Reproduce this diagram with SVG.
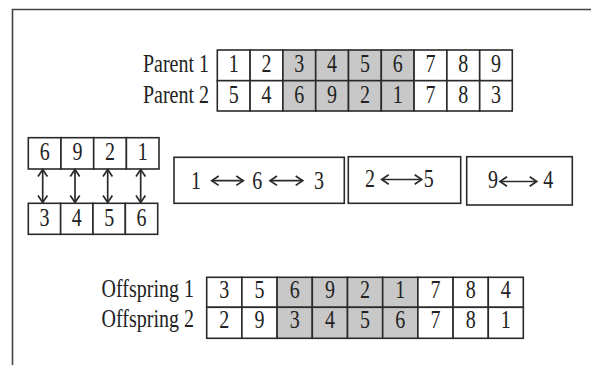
<svg xmlns="http://www.w3.org/2000/svg" width="591" height="365" viewBox="0 0 591 365">
<style>
text{font-family:"Liberation Serif","Times New Roman",serif;font-size:20px;fill:#222}
.d{text-anchor:middle}
.l{text-anchor:end}
.c{fill:#fff;stroke:#2a2a2a;stroke-width:1.6}
.g{fill:#c8c8c8;stroke:#2a2a2a;stroke-width:1.6}
.b{fill:#fff;stroke:#2a2a2a;stroke-width:1.6}
.a{fill:none;stroke:#2a2a2a;stroke-width:1.7}
.frame{fill:none;stroke:#444;stroke-width:1.6}
</style>
<defs>
<marker id="chev" markerUnits="userSpaceOnUse" markerWidth="12" markerHeight="12" refX="7.5" refY="5" orient="auto-start-reverse" overflow="visible">
<path d="M0.5,0.3 L7.5,5 L0.5,9.7" fill="none" stroke="#2a2a2a" stroke-width="1.7"/>
</marker>
</defs>
<rect width="591" height="365" fill="#fff"/>
<path class="frame" d="M12.5,365 V9.5 H591"/>

<g id="parents">
<text class="l" transform="translate(209,72.3) scale(1,1.3)">Parent 1</text>
<text class="l" transform="translate(209,102.7) scale(1,1.3)">Parent 2</text>
<rect class="c" x="217.3" y="50" width="32.8" height="30.7"/><rect class="c" x="250.1" y="50" width="32.8" height="30.7"/><rect class="g" x="282.9" y="50" width="32.8" height="30.7"/><rect class="g" x="315.7" y="50" width="32.8" height="30.7"/><rect class="g" x="348.5" y="50" width="32.8" height="30.7"/><rect class="g" x="381.3" y="50" width="32.8" height="30.7"/><rect class="c" x="414.1" y="50" width="32.8" height="30.7"/><rect class="c" x="446.9" y="50" width="32.8" height="30.7"/><rect class="c" x="479.7" y="50" width="32.6" height="30.7"/>
<rect class="c" x="217.3" y="80.7" width="32.8" height="30.3"/><rect class="c" x="250.1" y="80.7" width="32.8" height="30.3"/><rect class="g" x="282.9" y="80.7" width="32.8" height="30.3"/><rect class="g" x="315.7" y="80.7" width="32.8" height="30.3"/><rect class="g" x="348.5" y="80.7" width="32.8" height="30.3"/><rect class="g" x="381.3" y="80.7" width="32.8" height="30.3"/><rect class="c" x="414.1" y="80.7" width="32.8" height="30.3"/><rect class="c" x="446.9" y="80.7" width="32.8" height="30.3"/><rect class="c" x="479.7" y="80.7" width="32.6" height="30.3"/>
<text class="d" transform="translate(233.7,72.3) scale(1,1.3)">1</text><text class="d" transform="translate(266.5,72.3) scale(1,1.3)">2</text><text class="d" transform="translate(299.3,72.3) scale(1,1.3)">3</text><text class="d" transform="translate(332.1,72.3) scale(1,1.3)">4</text><text class="d" transform="translate(364.9,72.3) scale(1,1.3)">5</text><text class="d" transform="translate(397.7,72.3) scale(1,1.3)">6</text><text class="d" transform="translate(430.5,72.3) scale(1,1.3)">7</text><text class="d" transform="translate(463.3,72.3) scale(1,1.3)">8</text><text class="d" transform="translate(496,72.3) scale(1,1.3)">9</text>
<text class="d" transform="translate(233.7,102.7) scale(1,1.3)">5</text><text class="d" transform="translate(266.5,102.7) scale(1,1.3)">4</text><text class="d" transform="translate(299.3,102.7) scale(1,1.3)">6</text><text class="d" transform="translate(332.1,102.7) scale(1,1.3)">9</text><text class="d" transform="translate(364.9,102.7) scale(1,1.3)">2</text><text class="d" transform="translate(397.7,102.7) scale(1,1.3)">1</text><text class="d" transform="translate(430.5,102.7) scale(1,1.3)">7</text><text class="d" transform="translate(463.3,102.7) scale(1,1.3)">8</text><text class="d" transform="translate(496,102.7) scale(1,1.3)">3</text>
</g>

<g id="segment-top">
<rect class="c" x="28.3" y="137.7" width="32.7" height="31.3"/><rect class="c" x="61" y="137.7" width="32.7" height="31.3"/><rect class="c" x="93.7" y="137.7" width="32.7" height="31.3"/><rect class="c" x="126.4" y="137.7" width="32.6" height="31.3"/>
<text class="d" transform="translate(44.7,160) scale(1,1.3)">6</text><text class="d" transform="translate(77.4,160) scale(1,1.3)">9</text><text class="d" transform="translate(110,160) scale(1,1.3)">2</text><text class="d" transform="translate(142.7,160) scale(1,1.3)">1</text>
</g>
<g id="segment-bottom">
<rect class="c" x="28.3" y="203.3" width="32.35" height="31"/><rect class="c" x="60.65" y="203.3" width="32.35" height="31"/><rect class="c" x="93" y="203.3" width="32.35" height="31"/><rect class="c" x="125.35" y="203.3" width="32.35" height="31"/>
<text class="d" transform="translate(44.5,226) scale(1,1.3)">3</text><text class="d" transform="translate(76.8,226) scale(1,1.3)">4</text><text class="d" transform="translate(109.2,226) scale(1,1.3)">5</text><text class="d" transform="translate(141.5,226) scale(1,1.3)">6</text>
</g>

<g id="map-1">
<rect class="b" x="174" y="157.3" width="170.3" height="46"/>
<text class="d" transform="translate(196,189) scale(1,1.3)">1</text>
<text class="d" transform="translate(257.3,189) scale(1,1.3)">6</text>
<text class="d" transform="translate(319,189) scale(1,1.3)">3</text>
<path class="a" d="M211.7,180.7 H243.3" marker-start="url(#chev)" marker-end="url(#chev)"/>
<path class="a" d="M270,180.7 H302.7" marker-start="url(#chev)" marker-end="url(#chev)"/>
</g>
<g id="map-2">
<rect class="b" x="348.3" y="156.7" width="112.4" height="46.6"/>
<text class="d" transform="translate(370,187.3) scale(1,1.3)">2</text>
<text class="d" transform="translate(428.7,187.3) scale(1,1.3)">5</text>
<path class="a" d="M381.7,179.5 H421.7" marker-start="url(#chev)" marker-end="url(#chev)"/>
</g>
<g id="map-3">
<rect class="b" x="466.7" y="156.7" width="105.6" height="48.3"/>
<text class="d" transform="translate(493,188.3) scale(1,1.3)">9</text>
<text class="d" transform="translate(548.3,188.3) scale(1,1.3)">4</text>
<path class="a" d="M500,181.5 H536.7" marker-start="url(#chev)" marker-end="url(#chev)"/>
</g>

<g id="connectors">
<path class="a" d="M42.7,169.5 V202.5" marker-start="url(#chev)" marker-end="url(#chev)"/>
<path class="a" d="M75,169.5 V202.5" marker-start="url(#chev)" marker-end="url(#chev)"/>
<path class="a" d="M107.7,169.5 V202.5" marker-start="url(#chev)" marker-end="url(#chev)"/>
<path class="a" d="M140.7,169.5 V202.5" marker-start="url(#chev)" marker-end="url(#chev)"/>
</g>

<g id="offspring">
<text class="l" transform="translate(194,296.7) scale(1,1.3)">Offspring 1</text>
<text class="l" transform="translate(194,326.7) scale(1,1.3)">Offspring 2</text>
<rect class="c" x="206.7" y="277.3" width="35.2" height="30"/><rect class="c" x="241.9" y="277.3" width="35.2" height="30"/><rect class="g" x="277.1" y="277.3" width="35.2" height="30"/><rect class="g" x="312.3" y="277.3" width="35.2" height="30"/><rect class="g" x="347.5" y="277.3" width="35.2" height="30"/><rect class="g" x="382.7" y="277.3" width="35.2" height="30"/><rect class="c" x="417.9" y="277.3" width="35.2" height="30"/><rect class="c" x="453.1" y="277.3" width="35.2" height="30"/><rect class="c" x="488.3" y="277.3" width="35" height="30"/>
<rect class="c" x="206.7" y="307.3" width="35.2" height="31"/><rect class="c" x="241.9" y="307.3" width="35.2" height="31"/><rect class="g" x="277.1" y="307.3" width="35.2" height="31"/><rect class="g" x="312.3" y="307.3" width="35.2" height="31"/><rect class="g" x="347.5" y="307.3" width="35.2" height="31"/><rect class="g" x="382.7" y="307.3" width="35.2" height="31"/><rect class="c" x="417.9" y="307.3" width="35.2" height="31"/><rect class="c" x="453.1" y="307.3" width="35.2" height="31"/><rect class="c" x="488.3" y="307.3" width="35" height="31"/>
<text class="d" transform="translate(224.3,298.3) scale(1,1.3)">3</text><text class="d" transform="translate(259.5,298.3) scale(1,1.3)">5</text><text class="d" transform="translate(294.7,298.3) scale(1,1.3)">6</text><text class="d" transform="translate(329.9,298.3) scale(1,1.3)">9</text><text class="d" transform="translate(365.1,298.3) scale(1,1.3)">2</text><text class="d" transform="translate(400.3,298.3) scale(1,1.3)">1</text><text class="d" transform="translate(435.5,298.3) scale(1,1.3)">7</text><text class="d" transform="translate(470.7,298.3) scale(1,1.3)">8</text><text class="d" transform="translate(505.8,298.3) scale(1,1.3)">4</text>
<text class="d" transform="translate(224.3,328.3) scale(1,1.3)">2</text><text class="d" transform="translate(259.5,328.3) scale(1,1.3)">9</text><text class="d" transform="translate(294.7,328.3) scale(1,1.3)">3</text><text class="d" transform="translate(329.9,328.3) scale(1,1.3)">4</text><text class="d" transform="translate(365.1,328.3) scale(1,1.3)">5</text><text class="d" transform="translate(400.3,328.3) scale(1,1.3)">6</text><text class="d" transform="translate(435.5,328.3) scale(1,1.3)">7</text><text class="d" transform="translate(470.7,328.3) scale(1,1.3)">8</text><text class="d" transform="translate(505.8,328.3) scale(1,1.3)">1</text>
</g>
</svg>
